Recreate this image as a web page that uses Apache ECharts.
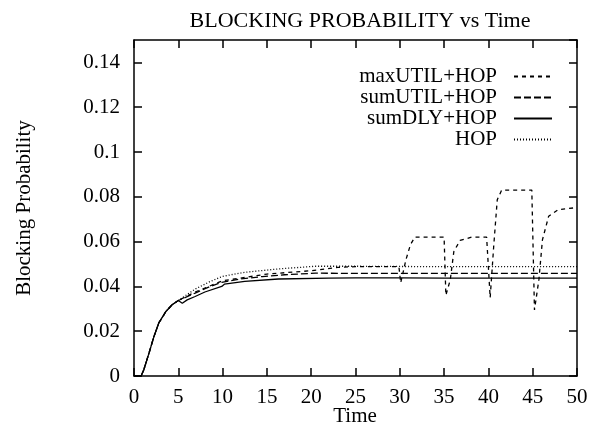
<!DOCTYPE html>
<html>
<head>
<meta charset="utf-8">
<style>
  html, body { margin: 0; padding: 0; background: #fff; }
  #chart { width: 596px; height: 427px; }
</style>
<script src="https://cdn.jsdelivr.net/npm/echarts@6/dist/echarts.min.js"></script>
</head>
<body>
<div id="chart"></div>
<script>
// data
const startT = [0, 0.8, 1.1, 1.7, 2.25, 2.8, 3.6, 4.3, 5.0];
const startV = [0, 0, 0.0027, 0.0103, 0.0176, 0.0237, 0.0288, 0.0318, 0.0337];

const maxUtilT = [6.9, 10, 15, 20, 23, 25, 29.9, 30.1, 30.7, 31.2, 31.7, 35.0, 35.2, 35.7, 36.1, 36.8, 38.1, 39.8, 40.2, 40.6, 41.0, 41.5, 44.9, 45.2, 45.7, 46.1, 46.8, 47.9, 50];
const maxUtilV = [0.0375, 0.0425, 0.0455, 0.047, 0.0485, 0.0488, 0.0488, 0.0416, 0.052, 0.0586, 0.062, 0.062, 0.036, 0.043, 0.0556, 0.0605, 0.062, 0.062, 0.035, 0.058, 0.0787, 0.083, 0.083, 0.0295, 0.043, 0.0608, 0.0713, 0.0743, 0.0752];

const sumUtilT = [6.9, 8.5, 9.9, 12, 14.5, 17, 20.5, 25, 30, 35, 40, 45, 50];
const sumUtilV = [0.037, 0.0398, 0.0418, 0.0433, 0.0444, 0.0452, 0.0459, 0.0458, 0.0458, 0.0458, 0.0458, 0.0458, 0.0458];

const sumDlyT = [5.45, 6.0, 6.9, 8.0, 9.9, 10.2, 12.5, 16.3, 22, 25, 30, 35, 40, 45, 50];
const sumDlyV = [0.0325, 0.034, 0.0355, 0.0375, 0.040, 0.041, 0.0422, 0.0433, 0.0437, 0.0438, 0.0438, 0.0437, 0.0437, 0.0437, 0.0437];

const hopT = [6.9, 8.5, 10, 12.5, 16.3, 20.5, 25, 30, 35, 40, 45, 50];
const hopV = [0.0388, 0.042, 0.0445, 0.0463, 0.0478, 0.049, 0.049, 0.0489, 0.0488, 0.0488, 0.0488, 0.0488];

const names = ['maxUTIL+HOP', 'sumUTIL+HOP', 'sumDLY+HOP', 'HOP'];

const pts = (t, v) => startT.map((x, i) => [x, startV[i]]).concat(t.map((x, i) => [x, v[i]]));

const font = 'Liberation Serif, Times New Roman, serif';
const chart = echarts.init(document.getElementById('chart'));

const tick = { inside: true, length: 8, lineStyle: { color: '#000', width: 1.5 } };
const line = { onZero: false, lineStyle: { color: '#000', width: 1.5 } };
const txt = size => ({ fontFamily: font, fontSize: size, fontWeight: 'normal', color: '#000' });

const dashes = [[4, 4], [7, 3], 'solid', [1, 2]];
const series = [
  pts(maxUtilT, maxUtilV), pts(sumUtilT, sumUtilV), pts(sumDlyT, sumDlyV), pts(hopT, hopV)
].map((d, i) => ({
  name: names[i], type: 'line', data: d, symbol: 'none', animation: false,
  lineStyle: { color: '#000', width: 1.3, type: dashes[i] },
  itemStyle: { color: '#000' }
}));

chart.setOption({
  animation: false,
  title: [
    { text: 'BLOCKING PROBABILITY vs Time', left: 355, top: 5, textAlign: 'center', textStyle: txt(22) },
    // x axis name, placed by hand so it is not pushed below the frame
    { text: 'Time', left: 355, top: 406, padding: 0, textAlign: 'center', textStyle: txt(21) }
  ],
  grid: { left: 134, right: 19, top: 40, bottom: 51, outerBoundsMode: 'none', containLabel: false },
  legend: names.map((n, i) => ({
    data: [n], orient: 'vertical', align: 'right', right: 43, top: 66 + i * 21, padding: 0,
    itemWidth: 38, itemHeight: 14, selectedMode: false,
    itemStyle: { opacity: 0 },
    textStyle: Object.assign(txt(21), { lineHeight: 20, padding: [0, 12, 0, 0] })
  })),
  xAxis: [
    {
      type: 'value', min: 0, max: 50, interval: 5, position: 'bottom',
      axisLine: line, axisTick: tick, splitLine: { show: false },
      axisLabel: Object.assign(txt(21), { margin: 11 })
    },
    {
      type: 'value', min: 0, max: 50, interval: 5, position: 'top',
      axisLine: line, axisTick: tick, splitLine: { show: false },
      axisLabel: { show: false }
    }
  ],
  yAxis: [
    {
      type: 'value', min: 0, max: 0.15, interval: 0.02, position: 'left',
      axisLine: line, axisTick: tick, splitLine: { show: false },
      name: 'Blocking Probability', nameLocation: 'middle', nameGap: 99,
      nameTextStyle: txt(21),
      axisLabel: Object.assign(txt(21), { margin: 14, showMaxLabel: false })
    },
    {
      type: 'value', min: 0, max: 0.15, interval: 0.02, position: 'right',
      axisLine: line, axisTick: tick, splitLine: { show: false },
      axisLabel: { show: false }
    }
  ],
  series: series
});
</script>
</body>
</html>
